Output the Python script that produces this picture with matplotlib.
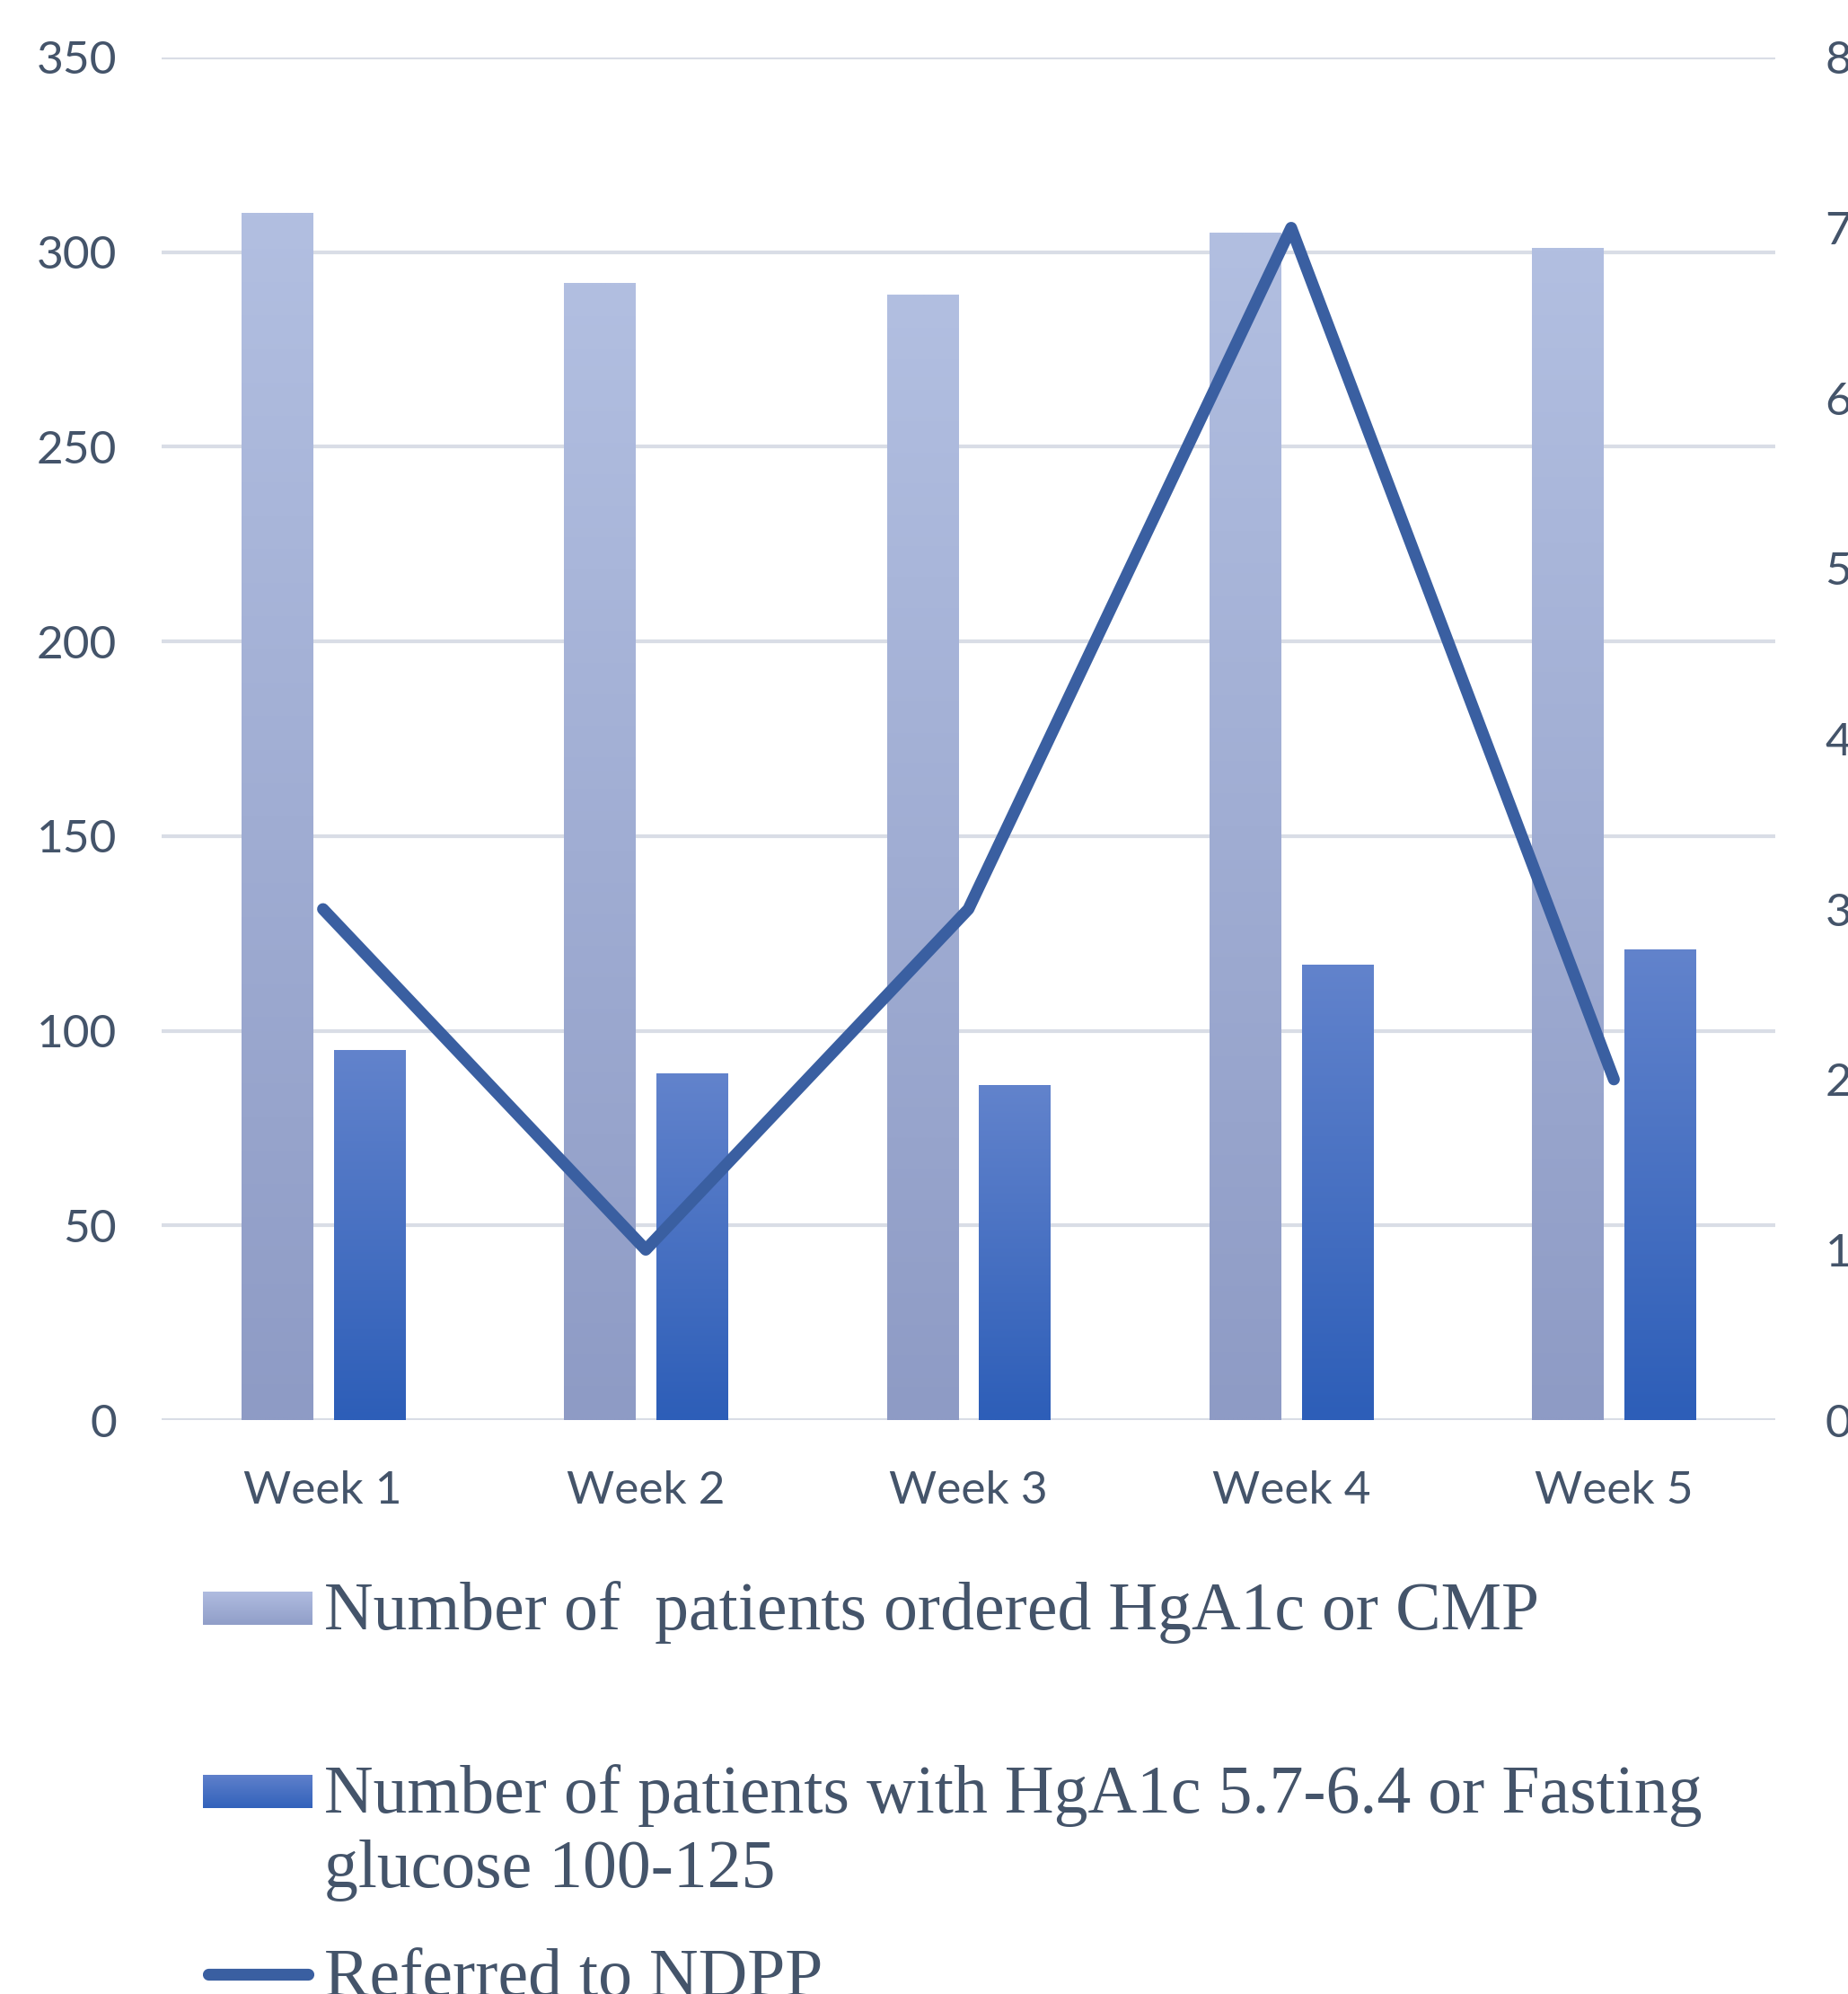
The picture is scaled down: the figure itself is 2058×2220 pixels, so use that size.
import numpy as np
import matplotlib.pyplot as plt
from matplotlib.colors import to_rgb

weeks = ["Week 1", "Week 2", "Week 3", "Week 4", "Week 5"]
ordered = [310, 292, 289, 305, 301]
prediabetic = [95, 89, 86, 117, 121]
referred = [3, 1, 3, 7, 2]

labels = [
    "Number of  patients ordered HgA1c or CMP",
    "Number of patients with HgA1c 5.7-6.4 or Fasting\nglucose 100-125",
    "Referred to NDPP",
]

TEXT = "#44546a"
GRID = "#d9dde6"
LIGHT = ("#b2bfe1", "#8e9bc5")
DARK = ("#6283cc", "#2d5eb8")
LINE = "#3a5fa1"


def gradient(top, bottom, n=256):
    t = np.linspace(0, 1, n)[:, None, None]
    return (1 - t) * np.array(to_rgb(top)) + t * np.array(to_rgb(bottom))


fig = plt.figure(figsize=(20.58, 22.2), dpi=100)
ax = fig.add_axes([180 / 2058, 1 - 1581 / 2220, (1977 - 180) / 2058, (1581 - 64) / 2220])

x = np.arange(len(weeks))
w = 0.22
off = 0.143
bars1 = ax.bar(x - off, ordered, w, facecolor="none", edgecolor="none", zorder=2)
bars2 = ax.bar(x + off, prediabetic, w, facecolor="none", edgecolor="none", zorder=2)
for bars, cols in ((bars1, LIGHT), (bars2, DARK)):
    g = gradient(*cols)
    for b in bars:
        bx, bw, bh = b.get_x(), b.get_width(), b.get_height()
        im = ax.imshow(g, extent=[bx, bx + bw, 0, bh], aspect="auto", zorder=2,
                       interpolation="bilinear")
        im.set_clip_path(b)

ax.set_xlim(-0.5, len(weeks) - 0.5)
ax.set_ylim(0, 350)
ax.set_yticks(np.arange(0, 351, 50))
ax.set_xticks(x)
ax.set_xticklabels(weeks)
ax.grid(axis="y", color=GRID, linewidth=3, zorder=0)
ax.set_axisbelow(True)
for s in ax.spines.values():
    s.set_visible(False)
ax.tick_params(length=0, labelsize=37, labelcolor=TEXT, pad=36)
ax.tick_params(axis="x", pad=40)
for t in ax.get_xticklabels() + ax.get_yticklabels():
    t.set_family("Lato")

ax2 = ax.twinx()
ax2.plot(x, referred, color=LINE, linewidth=9.5, solid_capstyle="round",
         solid_joinstyle="round", zorder=3)
ax2.set_ylim(0, 8)
ax2.set_yticks(np.arange(0, 9, 1))
for s in ax2.spines.values():
    s.set_visible(False)
ax2.tick_params(length=0, labelsize=37, labelcolor=TEXT, pad=40)
for t in ax2.get_yticklabels():
    t.set_family("Lato")

# legend drawn below the plot in pixel coordinates
lax = fig.add_axes([0, 0, 1, 1])
lax.set_xlim(0, 2058)
lax.set_ylim(2220, 0)
lax.axis("off")
lax.imshow(gradient("#b0bce0", "#909ec8"), extent=[226, 348, 1809, 1772], aspect="auto")
lax.imshow(gradient("#5f80cb", "#3262bb"), extent=[226, 348, 2013, 1976], aspect="auto")
lax.plot([232, 343], [2198, 2198], color=LINE, linewidth=9.5, solid_capstyle="round")
lax.set_xlim(0, 2058)
lax.set_ylim(2220, 0)
serif = dict(family="Liberation Serif", fontsize=54.5, color=TEXT, va="baseline", ha="left")
lax.text(361, 1814, labels[0], **serif)
lax.text(361, 2018, labels[1].split("\n")[0], **serif)
lax.text(361, 2101, labels[1].split("\n")[1], **serif)
lax.text(361, 2222, labels[2], **serif)

fig.savefig("out.png", dpi=100)
